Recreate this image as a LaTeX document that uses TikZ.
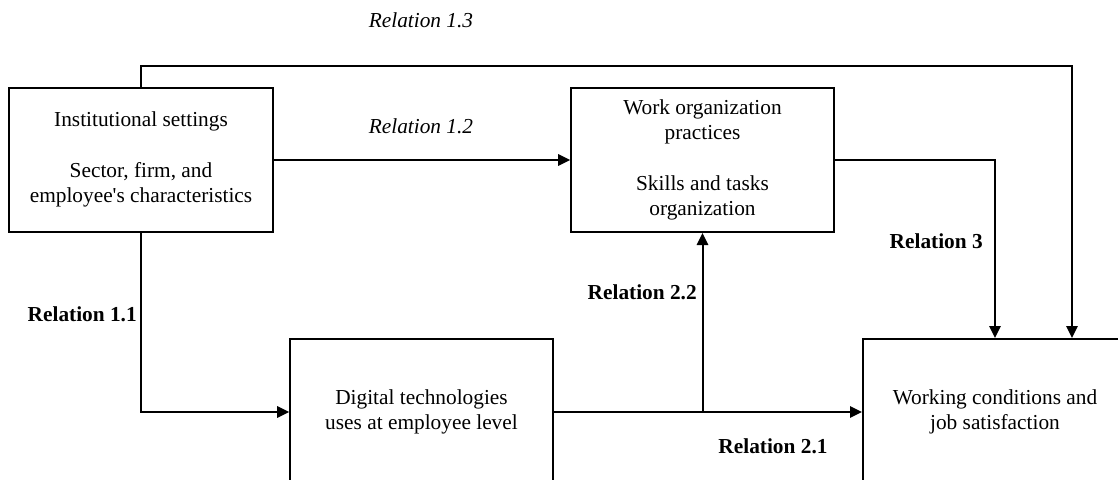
\documentclass[tikz,border=0pt]{standalone}
\usepackage{fontspec}
\setmainfont{Liberation Serif}
\usetikzlibrary{arrows.meta,calc}
\begin{document}
\begin{tikzpicture}[x=0.75pt,y=-0.75pt,
  box/.style={draw,line width=1.5pt,rectangle,inner sep=0pt,align=center,
    font=\fontsize{16pt}{19pt}\selectfont},
  arr/.style={line width=1.5pt,-{Triangle[length=9pt,width=8.5pt]}},
  rel/.style={font=\fontsize{16pt}{19pt}\selectfont\bfseries,inner sep=0pt},
  reli/.style={font=\fontsize{16pt}{19pt}\selectfont\itshape,inner sep=0pt}]
  \path[use as bounding box] (0,0) rectangle (1118,479);
  \clip (0,0) rectangle (1118,479);

  % boxes
  \node[box,minimum width=198pt,minimum height=108pt] (A) at (141,160)
    {Institutional settings\\[19pt]Sector, firm, and\\employee\textquotesingle s characteristics\\[-14.5pt]};
  \node[box,minimum width=197pt,minimum height=108pt] (B) at (702.5,160)
    {Work organization\\practices\\[19pt]Skills and tasks\\organization};
  \node[box,minimum width=197pt,minimum height=109.5pt] (C) at (421.5,412)
    {Digital technologies\\uses at employee level};
  \node[box,minimum width=198pt,minimum height=109.5pt] (D) at (995,412)
    {Working conditions and\\job satisfaction};

  % connectors
  \coordinate (r13) at (1072,66);
  \draw[arr] (A.north) |- (r13) -- (r13 |- D.north);
  \draw[arr] (A.east) -- (B.west);
  \draw[arr] (A.south) |- (C.west);
  \draw[arr] (C.east) -- (D.west);
  \draw[arr] (B.south |- C.east) -- (B.south);
  \draw[arr] (B.east) -| (D.north);

  % relation labels
  \node[reli] (l13) at (421,20) {Relation 1.3};
  \node[reli] (l12) at (421,126) {Relation 1.2};
  \node[rel,anchor=east] (l11) at (137,314) {Relation 1.1};
  \node[rel,anchor=east] (l22) at (697,292) {Relation 2.2};
  \node[rel,anchor=east] (l3) at (983,241) {Relation 3};
  \node[rel] (l21) at (773,446) {Relation 2.1};
\end{tikzpicture}
\end{document}
